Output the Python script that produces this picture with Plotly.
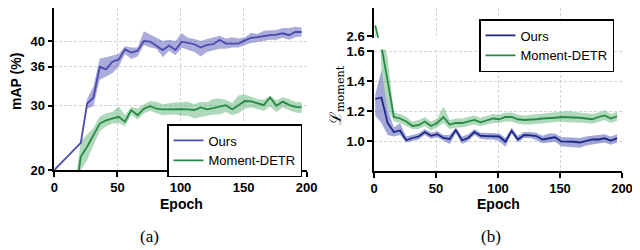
import plotly.graph_objects as go

# ---------------- data (a) mAP ----------------
ours_a_epoch = [0] + list(range(21, 197, 5))
ours_a = [20.0, 24.2, 30.3, 31.2, 36.0, 35.6, 36.8, 37.1, 38.7, 38.2, 38.5, 40.0, 39.9, 39.3,
          38.6, 39.3, 38.6, 39.9, 39.7, 39.5, 39.0, 39.4, 39.5, 40.2, 39.6, 39.6, 39.6, 40.1,
          40.5, 40.6, 40.8, 40.9, 41.0, 41.2, 40.9, 41.4, 41.4]
ours_a_band_epoch = list(range(21, 197, 5))
ours_a_hi = [24.4, 31.0, 33.0, 37.3, 37.5, 37.8, 38.0, 39.2, 39.0, 39.0, 41.5, 41.0, 40.5, 40.0,
             40.2, 40.0, 41.2, 40.5, 40.3, 40.0, 40.3, 40.5, 40.8, 40.4, 40.6, 40.4, 40.6, 41.3,
             41.1, 41.6, 41.6, 41.7, 42.0, 42.0, 42.2, 42.1]
ours_a_lo = [24.0, 29.5, 29.9, 34.0, 34.5, 35.0, 36.0, 38.0, 37.2, 37.6, 39.4, 39.0, 38.8, 37.5,
             38.5, 37.8, 39.0, 38.6, 38.3, 37.6, 38.3, 38.5, 38.8, 38.8, 39.0, 39.0, 39.4, 39.7,
             39.9, 40.0, 40.2, 40.2, 40.5, 40.2, 40.6, 40.7]

detr_a_epoch = list(range(16, 197, 5))
detr_a = [15.0, 22.1, 23.6, 25.4, 27.2, 27.7, 28.0, 28.25, 27.5, 29.3, 28.5, 29.5, 29.9, 29.5,
          29.4, 29.45, 29.5, 29.45, 29.4, 29.3, 29.7, 29.4, 29.6, 29.8, 30.05, 29.4, 30.0, 30.7,
          30.65, 30.4, 30.05, 31.25, 29.95, 30.6, 30.1, 29.8, 29.7]
detr_a_hi = [17.0, 24.5, 25.5, 26.5, 28.3, 28.8, 29.0, 29.9, 28.5, 29.8, 29.5, 30.2, 30.7, 30.6,
             30.2, 30.4, 30.5, 30.5, 30.6, 30.2, 30.6, 30.5, 31.0, 31.1, 30.9, 30.4, 31.6, 31.7,
             31.4, 31.0, 30.9, 31.5, 30.8, 31.3, 31.0, 30.6, 30.5]
detr_a_lo = [13.0, 20.0, 21.5, 23.8, 26.0, 26.8, 27.2, 27.3, 26.8, 28.6, 27.8, 28.8, 29.2, 28.8,
             28.5, 28.5, 28.6, 28.4, 28.4, 28.0, 28.2, 28.4, 28.6, 28.6, 29.0, 28.5, 28.8, 29.5,
             29.7, 29.5, 29.2, 29.8, 29.0, 29.7, 29.3, 28.9, 28.8]

# ---------------- data (b) L_moment ----------------
epoch_b = list(range(1, 197, 5))
ours_b = [1.28, 1.29, 1.12, 1.06, 1.07, 1.005, 1.02, 1.03, 1.06, 1.035, 1.045, 1.02, 1.013, 1.073,
          1.005, 1.02, 1.06, 1.035, 1.033, 1.03, 1.03, 0.995, 1.068, 1.01, 1.04, 1.038, 1.033,
          1.01, 1.02, 1.025, 0.997, 0.997, 0.995, 0.99, 1.0, 1.01, 1.01, 1.018, 1.003, 1.018]
ours_b_hi = [1.31, 1.47, 1.22, 1.09, 1.12, 1.03, 1.04, 1.05, 1.08, 1.055, 1.065, 1.04, 1.04, 1.09,
             1.03, 1.045, 1.08, 1.055, 1.055, 1.05, 1.05, 1.02, 1.09, 1.035, 1.06, 1.06, 1.055,
             1.035, 1.05, 1.05, 1.025, 1.025, 1.02, 1.02, 1.03, 1.035, 1.04, 1.045, 1.03, 1.045]
ours_b_lo = [1.17, 1.12, 1.04, 1.03, 1.04, 0.99, 1.0, 1.01, 1.04, 1.015, 1.025, 1.0, 0.98, 1.05,
             0.98, 1.0, 1.04, 1.015, 1.01, 1.01, 1.0, 0.96, 1.05, 0.99, 1.02, 1.02, 1.005,
             0.985, 0.99, 0.995, 0.965, 0.965, 0.96, 0.955, 0.97, 0.98, 0.985, 0.99, 0.975, 0.99]
detr_b = [2.67, 1.63, 1.40, 1.16, 1.15, 1.13, 1.10, 1.105, 1.13, 1.10, 1.12, 1.16, 1.11, 1.12,
          1.12, 1.13, 1.14, 1.125, 1.14, 1.15, 1.145, 1.16, 1.16, 1.145, 1.14, 1.14, 1.145,
          1.15, 1.15, 1.155, 1.16, 1.16, 1.155, 1.155, 1.15, 1.145, 1.16, 1.17, 1.15, 1.165]
detr_b_hi = [2.72, 1.75, 1.55, 1.19, 1.18, 1.16, 1.13, 1.14, 1.16, 1.13, 1.15, 1.23, 1.14, 1.15,
             1.15, 1.16, 1.17, 1.155, 1.17, 1.18, 1.175, 1.19, 1.19, 1.175, 1.17, 1.175, 1.18,
             1.185, 1.19, 1.195, 1.20, 1.20, 1.195, 1.19, 1.185, 1.18, 1.19, 1.205, 1.18, 1.195]
detr_b_lo = [2.60, 1.45, 1.22, 1.13, 1.12, 1.10, 1.08, 1.08, 1.10, 1.07, 1.09, 1.12, 1.08, 1.09,
             1.09, 1.10, 1.11, 1.10, 1.11, 1.12, 1.12, 1.13, 1.13, 1.115, 1.11, 1.11, 1.115,
             1.12, 1.12, 1.125, 1.13, 1.125, 1.12, 1.12, 1.12, 1.115, 1.13, 1.14, 1.12, 1.135]

x_ticks = [0, 50, 100, 150, 200]
a_yticks = [20, 30, 36, 40]
b_yticks_low = [1.0, 1.2, 1.4, 1.6]
b_yticks_high = [2.6]

# ---------------- geometry helpers (page has an 8px body margin) ----------------
W, H, OFF = 632, 242, 8


def fx(px):
    return (px - OFF) / W


def fy(py):
    return 1 - (py - OFF) / H


# ---------------- styles ----------------
SANS = "Liberation Sans, Arial, sans-serif"
SERIF = "Liberation Serif, DejaVu Serif, serif"
BLUE_A, BLUE_A_FILL = "#4a4aad", "rgba(90,90,185,0.50)"
BLUE_B, BLUE_B_FILL = "#1c2888", "rgba(70,80,175,0.50)"
GREEN, GREEN_FILL = "#268a45", "rgba(80,170,105,0.45)"
GRID = "#d4d4d4"

fig = go.Figure()


def band(x, hi, lo, color, xa, ya):
    fig.add_trace(go.Scatter(x=list(x) + list(x)[::-1], y=list(hi) + list(lo)[::-1],
                             fill="toself", fillcolor=color, line=dict(width=0),
                             mode="lines", hoverinfo="skip", showlegend=False,
                             xaxis=xa, yaxis=ya))


def line(x, y, color, name, xa, ya, legend, show):
    fig.add_trace(go.Scatter(x=x, y=y, mode="lines", name=name,
                             line=dict(color=color, width=1.8),
                             showlegend=show, legend=legend, xaxis=xa, yaxis=ya))


# (a)
band(ours_a_band_epoch, ours_a_hi, ours_a_lo, BLUE_A_FILL, "x", "y")
band(detr_a_epoch, detr_a_hi, detr_a_lo, GREEN_FILL, "x", "y")
line(ours_a_epoch, ours_a, BLUE_A, "Ours", "x", "y", "legend", True)
line(detr_a_epoch, detr_a, GREEN, "Moment-DETR", "x", "y", "legend", True)

# (b) lower and upper (broken axis)
for xa, ya, show in [("x2", "y2", True), ("x3", "y3", False)]:
    band(epoch_b, ours_b_hi, ours_b_lo, BLUE_B_FILL, xa, ya)
    band(epoch_b, detr_b_hi, detr_b_lo, GREEN_FILL, xa, ya)
    line(epoch_b, ours_b, BLUE_B, "Ours", xa, ya, "legend2", show)
    line(epoch_b, detr_b, GREEN, "Moment-DETR", xa, ya, "legend2", show)

tickfont = dict(family=SANS, size=13, color="black", weight="bold")
axis_common = dict(showline=True, linecolor="black", linewidth=1.5, ticks="outside",
                   ticklen=5, tickwidth=1.5, tickcolor="black", tickfont=tickfont,
                   showgrid=True, gridcolor=GRID, gridwidth=1, griddash="3px,2px",
                   zeroline=False, automargin=False, mirror=False)

xa_dom = [fx(54.3), fx(306.7)]
xb_dom = [fx(374), fx(622)]

fig.update_layout(
    width=W, height=H, margin=dict(l=0, r=0, t=0, b=0),
    paper_bgcolor="white", plot_bgcolor="white",
    xaxis=dict(axis_common, domain=xa_dom, range=[0, 200], tickvals=x_ticks, anchor="y"),
    yaxis=dict(axis_common, domain=[fy(170), fy(8.0)], range=[20, 45.12],
               tickvals=a_yticks, anchor="x"),
    xaxis2=dict(axis_common, domain=xb_dom, range=[0, 200], tickvals=x_ticks, anchor="y2"),
    yaxis2=dict(axis_common, domain=[fy(171), fy(49.5)], range=[0.8, 1.61],
                tickvals=b_yticks_low, tickformat=".1f", anchor="x2"),
    xaxis3=dict(axis_common, domain=xb_dom, range=[0, 200], tickvals=x_ticks, anchor="y3",
                showline=False, ticks="", showticklabels=False, matches="x2"),
    yaxis3=dict(axis_common, domain=[fy(37.7), fy(8.0)], range=[2.589, 2.786],
                tickvals=b_yticks_high, tickformat=".1f", anchor="x3", showgrid=False),
    legend=dict(x=fx(167), y=fy(124), xanchor="left", yanchor="top",
                bordercolor="black", borderwidth=1.5, bgcolor="white",
                font=dict(family=SANS, size=13, color="black"), tracegroupgap=0),
    legend2=dict(x=fx(479), y=fy(19), xanchor="left", yanchor="top",
                 bordercolor="black", borderwidth=1.5, bgcolor="white",
                 font=dict(family=SANS, size=13, color="black"), tracegroupgap=0),
    showlegend=True,
)

ann = [
    dict(text="mAP (%)", x=fx(16), y=fy(82), textangle=-90,
         font=dict(family=SANS, size=14, color="black", weight="bold")),
    dict(text="Epoch", x=fx(181), y=fy(204),
         font=dict(family=SANS, size=14, color="black", weight="bold")),
    dict(text="Epoch", x=fx(498), y=fy(204),
         font=dict(family=SANS, size=14, color="black", weight="bold")),
    dict(text="(a)", x=fx(149), y=fy(236),
         font=dict(family=SERIF, size=17, color="black")),
    dict(text="(b)", x=fx(491), y=fy(236),
         font=dict(family=SERIF, size=17, color="black")),
    dict(text="ℒ<sub>moment</sub>", x=fx(336), y=fy(95), textangle=-90,
         font=dict(family="DejaVu Serif, serif", size=16, color="black")),
]
for a in ann:
    a.update(xref="paper", yref="paper", showarrow=False, xanchor="center", yanchor="middle")
fig.update_layout(annotations=ann)

fig.write_html("out.html")
